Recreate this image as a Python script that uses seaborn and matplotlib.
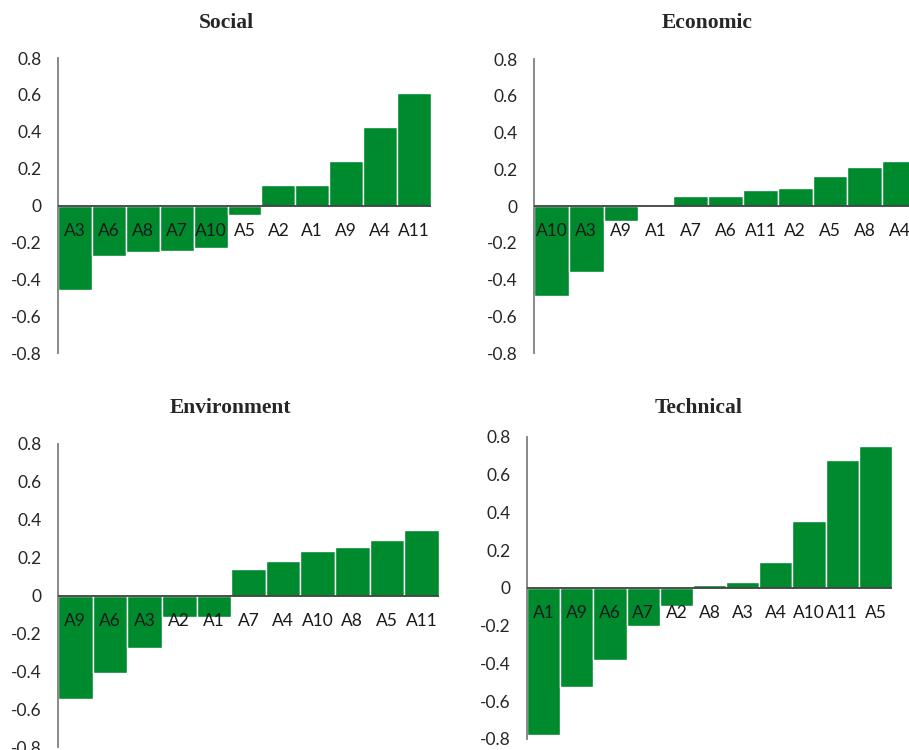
import matplotlib
matplotlib.use("Agg")
import matplotlib.pyplot as plt
import seaborn as sns
import pandas as pd

# Net scores per alternative, sorted ascending within each criterion
social_labels = ["A3", "A6", "A8", "A7", "A10", "A5", "A2", "A1", "A9", "A4", "A11"]
social_values = [-0.46, -0.275, -0.25, -0.245, -0.23, -0.05, 0.11, 0.11, 0.24, 0.425, 0.61]

economic_labels = ["A10", "A3", "A9", "A1", "A7", "A6", "A11", "A2", "A5", "A8", "A4"]
economic_values = [-0.487, -0.36, -0.08, -0.007, 0.053, 0.053, 0.085, 0.098, 0.164, 0.215, 0.244]

environment_labels = ["A9", "A6", "A3", "A2", "A1", "A7", "A4", "A10", "A8", "A5", "A11"]
environment_values = [-0.546, -0.409, -0.278, -0.113, -0.113, 0.141, 0.18, 0.234, 0.254, 0.293, 0.345]

technical_labels = ["A1", "A9", "A6", "A7", "A2", "A8", "A3", "A4", "A10", "A11", "A5"]
technical_values = [-0.78, -0.525, -0.382, -0.203, -0.097, 0.014, 0.033, 0.139, 0.356, 0.68, 0.752]

y_ticks = [0.8, 0.6, 0.4, 0.2, 0, -0.2, -0.4, -0.6, -0.8]
y_tick_labels = ["0.8", "0.6", "0.4", "0.2", "0", "-0.2", "-0.4", "-0.6", "-0.8"]

BAR_COLOR = "#008A2E"

sns.set_theme(style="white")
plt.rcParams["font.family"] = ["Lato", "DejaVu Sans"]

fig = plt.figure(figsize=(9.09, 7.5), dpi=100)

# (title, labels, values, axes rect, title x, title y) in figure fractions
panels = [
    ("Social", social_labels, social_values, [0.0638, 0.5293, 0.4103, 0.3933], 0.2486, 0.970),
    ("Economic", economic_labels, economic_values, [0.5875, 0.5293, 0.4213, 0.3920], 0.7778, 0.969),
    ("Environment", environment_labels, environment_values, [0.0638, 0.0040, 0.4191, 0.4040], 0.2530, 0.456),
    ("Technical", technical_labels, technical_values, [0.5798, 0.0147, 0.4015, 0.4027], 0.7690, 0.456),
]

for title, labels, values, rect, title_x, title_y in panels:
    ax = fig.add_axes(rect)
    df = pd.DataFrame({"alt": labels, "score": values})
    sns.barplot(data=df, x="alt", y="score", order=labels, color=BAR_COLOR,
                saturation=1, width=1.0, edgecolor="white", linewidth=1.0, ax=ax)
    ax.set_xlim(-0.5, len(labels) - 0.5)
    ax.set_ylim(-0.8, 0.8)
    ax.set_yticks(y_ticks)
    ax.set_yticklabels(y_tick_labels, fontsize=12.5, color="#262626")
    ax.tick_params(axis="y", length=0, pad=12)
    ax.set_xticks([])
    ax.set_xlabel("")
    ax.set_ylabel("")
    for side in ("top", "right", "bottom"):
        ax.spines[side].set_visible(False)
    ax.spines["left"].set_color("#7f7f7f")
    ax.spines["left"].set_linewidth(1.3)
    ax.axhline(0, color="#404040", linewidth=1.3, zorder=3)
    for i, lab in enumerate(labels):
        ax.annotate(lab, xy=(i, 0), xytext=(0, -18), textcoords="offset points",
                    ha="center", va="center", fontsize=12.5, color="#1a1a1a",
                    annotation_clip=False)
    fig.text(title_x, title_y, title, ha="center", va="center", fontsize=15.5,
             fontweight="bold", family=["Liberation Serif", "DejaVu Serif"])

fig.savefig("out.png", dpi=100)
